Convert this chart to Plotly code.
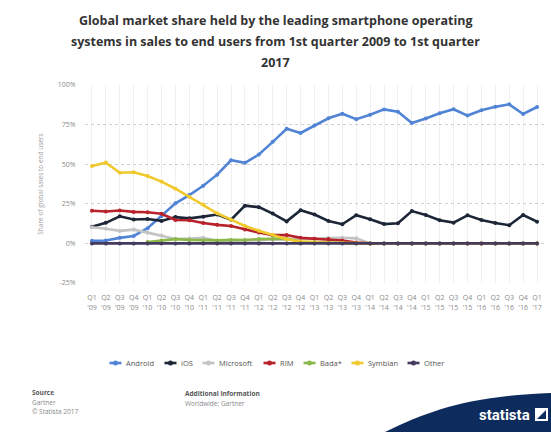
import plotly.graph_objects as go

quarters = ["Q1<br>'09","Q2<br>'09","Q3<br>'09","Q4<br>'09",
            "Q1<br>'10","Q2<br>'10","Q3<br>'10","Q4<br>'10",
            "Q1<br>'11","Q2<br>'11","Q3<br>'11","Q4<br>'11",
            "Q1<br>'12","Q2<br>'12","Q3<br>'12","Q4<br>'12",
            "Q1<br>'13","Q2<br>'13","Q3<br>'13","Q4<br>'13",
            "Q1<br>'14","Q2<br>'14","Q3<br>'14","Q4<br>'14",
            "Q1<br>'15","Q2<br>'15","Q3<br>'15","Q4<br>'15",
            "Q1<br>'16","Q2<br>'16","Q3<br>'16","Q4<br>'16",
            "Q1<br>'17"]

android = [1.6, 1.8, 3.5, 4.7, 9.6, 17.2, 25.3, 30.5, 36.4, 43.4, 52.5, 50.9,
           56.1, 64.1, 72.4, 69.7, 74.4, 79.0, 81.9, 78.4, 81.2, 84.6, 83.1, 76.0,
           78.8, 82.2, 84.7, 80.7, 84.1, 86.2, 87.8, 81.7, 86.1]
ios = [10.5, 13.0, 17.1, 15.1, 15.4, 14.2, 16.6, 15.8, 16.9, 18.2, 15.0, 23.8,
       22.9, 18.8, 13.9, 20.9, 18.2, 14.2, 12.1, 17.8, 15.2, 12.2, 12.7, 20.4,
       17.9, 14.6, 13.1, 17.7, 14.8, 12.9, 11.5, 17.9, 13.7]
microsoft = [10.2, 9.3, 7.9, 8.7, 6.8, 5.0, 2.8, 3.1, 3.6, 1.6, 1.5, 1.9,
             1.9, 2.6, 2.4, 3.0, 2.9, 3.3, 3.6, 3.2, 0, 0, 0, 0,
             0, 0, 0, 0, 0, 0, 0, 0, 0]
rim = [20.6, 20.1, 20.8, 19.9, 19.7, 18.7, 14.8, 14.6, 12.9, 11.7, 11.0, 8.8,
       6.9, 5.2, 5.3, 3.5, 3.0, 2.7, 1.8, 0.6, 0, 0, 0, 0,
       0, 0, 0, 0, 0, 0, 0, 0, 0]
bada = [None, None, None, None, 0.9, 1.9, 2.7, 2.2, 1.9, 1.9, 2.2, 2.1,
        2.7, 2.7, 3.0, 1.0, 0.7, 0.4, 0.3, 0.1, 0, 0, 0, 0,
        0, 0, 0, 0, 0, 0, 0, 0, 0]
symbian = [48.8, 51.0, 44.6, 44.9, 42.5, 39.0, 34.5, 29.5, 24.5, 19.0, 15.0, 11.0,
           8.0, 5.5, 2.6, 1.2, 0.6, 0.3, 0.2, 0, 0, 0, 0, 0,
           0, 0, 0, 0, 0, 0, 0, 0, 0]
other = [0] * 33

series = [
    ("Android", android, "#5284d6"),
    ("iOS", ios, "#1c2636"),
    ("Microsoft", microsoft, "#c4c4c4"),
    ("RIM", rim, "#b8222a"),
    ("Bada*", bada, "#8cb84a"),
    ("Symbian", symbian, "#f0c92c"),
    ("Other", other, "#443b5e"),
]

y_ticks = [-25, 0, 25, 50, 75, 100]
y_tick_labels = ["-25%", "0%", "25%", "50%", "75%", "100%"]

fig = go.Figure()
for name, vals, col in series:
    fig.add_trace(go.Scatter(
        x=quarters, y=vals, name=name, mode="lines+markers",
        line=dict(color=col, width=2.6),
        marker=dict(color=col, size=4),
        connectgaps=False, showlegend=False,
    ))

# plot area in pixels
L, R, T, B = 85, 544, 85, 283
W, H = 551, 432

def px(x):
    return (x - L) / (R - L)

def py(y):
    return (B - y) / (B - T)

fig.update_layout(
    width=W, height=H,
    margin=dict(l=L, r=W - R, t=T, b=H - B),
    paper_bgcolor="white", plot_bgcolor="white",
    font=dict(family="Open Sans, DejaVu Sans, sans-serif", color="#666666", size=7),
    showlegend=False,
    xaxis=dict(type="category", range=[-0.5, 32.5], showgrid=True, gridcolor="#f0f0f0",
               gridwidth=1, tickfont=dict(size=7, color="#8a8a8a"), tickangle=0,
               showline=False, zeroline=False, ticks="outside", ticklen=8,
               tickcolor="rgba(0,0,0,0)"),
    yaxis=dict(range=[-25, 100], tickvals=y_ticks, ticktext=y_tick_labels,
               showgrid=True, gridcolor="#cfcfcf", griddash="dot", gridwidth=1,
               zeroline=False, tickfont=dict(size=7, color="#8a8a8a"),
               ticks="outside", ticklen=7, tickcolor="rgba(0,0,0,0)",
               title=dict(text="Share of global sales to end users",
                          font=dict(size=6.5, color="#a0a0a0"), standoff=13)),
)

title_lines = ["Global market share held by the leading smartphone operating",
               "systems in sales to end users from 1st quarter 2009 to 1st quarter",
               "2017"]
for i, t in enumerate(title_lines):
    fig.add_annotation(text="<b>" + t + "</b>", xref="paper", yref="paper",
                       x=px(275), y=py(21 + 20.5 * i), xanchor="center", yanchor="middle",
                       showarrow=False, font=dict(size=12.5, color="#333333"))

# legend (drawn manually to match compact layout)
text_w = {"Android": 30, "iOS": 13, "Microsoft": 36, "RIM": 15, "Bada*": 23,
          "Symbian": 31, "Other": 22}
total = sum(12 + 3 + text_w[n] for n, _, _ in series) + 10 * (len(series) - 1)
cx = 277 - total / 2
ly = 363
for name, _, col in series:
    fig.add_shape(type="line", xref="paper", yref="paper",
                  x0=px(cx), x1=px(cx + 12), y0=py(ly), y1=py(ly),
                  line=dict(color=col, width=2.6))
    fig.add_shape(type="circle", xref="paper", yref="paper",
                  x0=px(cx + 3.5), x1=px(cx + 8.5), y0=py(ly + 2.5), y1=py(ly - 2.5),
                  fillcolor=col, line=dict(width=0))
    fig.add_annotation(text=name, xref="paper", yref="paper", x=px(cx + 14), y=py(ly),
                       xanchor="left", yanchor="middle", showarrow=False,
                       font=dict(size=7.5, color="#555555"))
    cx += 12 + 3 + text_w[name] + 10

foot = [("<b>Source</b>", 30, 392, "#555555"),
        ("Gartner", 30, 402, "#888888"),
        ("© Statista 2017", 30, 411, "#888888"),
        ("<b>Additional Information</b>", 183, 393, "#555555"),
        ("Worldwide; Gartner", 183, 403, "#888888")]
for t, x, y, c in foot:
    fig.add_annotation(text=t, xref="paper", yref="paper", x=px(x), y=py(y),
                       xanchor="left", yanchor="middle", showarrow=False,
                       font=dict(size=6.5, color=c))

# statista logo swoosh
path = "M {} {} C {} {} {} {} {} {} L {} {} L {} {} Z".format(
    px(385), py(432), px(430), py(410), px(470), py(396), px(551), py(393),
    px(551), py(432), px(385), py(432))
fig.add_shape(type="path", path=path, xref="paper", yref="paper",
              fillcolor="#0d2b5c", line=dict(width=0), layer="above")
fig.add_annotation(text="<b>statista</b>", xref="paper", yref="paper",
                   x=px(532), y=py(415), xanchor="right", yanchor="middle",
                   showarrow=False, font=dict(size=15, color="white",
                                              family="Liberation Sans Narrow, Roboto, sans-serif"))
fig.add_shape(type="rect", xref="paper", yref="paper",
              x0=px(535), x1=px(548), y0=py(421), y1=py(408),
              fillcolor="white", line=dict(width=0), layer="above")
fig.add_shape(type="path", xref="paper", yref="paper",
              path="M {} {} L {} {} L {} {} Z".format(px(537), py(419), px(546), py(410), px(546), py(419)),
              fillcolor="#0d2b5c", line=dict(width=0), layer="above")

fig.write_html("out.html")
